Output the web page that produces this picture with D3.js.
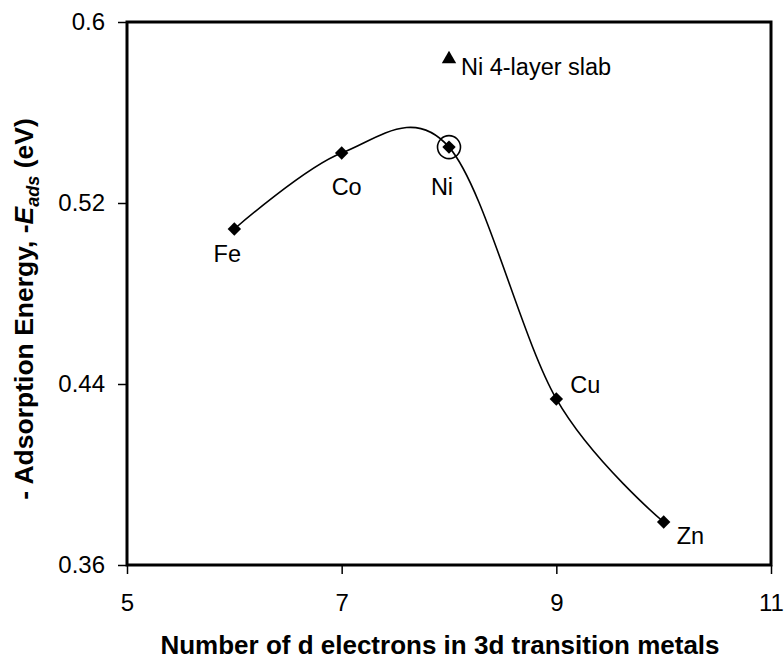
<!DOCTYPE html>
<html>
<head>
<meta charset="utf-8">
<script src="https://cdn.jsdelivr.net/npm/d3@7"></script>
<style>
  body { margin: 0; background: #fff; }
  text { font-family: "Liberation Sans", Arial, sans-serif; fill: #000; }
</style>
</head>
<body>
<div id="chart"></div>
<script>
// data
const metals = ['Fe', 'Co', 'Ni', 'Cu', 'Zn'];
const dElectrons = [6, 7, 8, 9, 10];
const energies = [0.5085, 0.5421, 0.5447, 0.4334, 0.379];
const slabX = [8];
const slabY = [0.5836];
const slabLabel = ['Ni 4-layer slab'];
const xTicks = [5, 7, 9, 11];
const yTicks = [0.36, 0.44, 0.52, 0.6];

// label offsets (pixels) from each point
const labelOffsets = [[-7, 33, 'middle'], [5, 42, 'middle'], [-7, 48, 'middle'], [14, -6, 'start'], [13, 22, 'start']];

const margin = { top: 22, right: 13, bottom: 96, left: 127 };
const W = 784, H = 661;
const width = W - margin.left - margin.right;
const height = H - margin.top - margin.bottom;

const svg = d3.select('#chart').append('svg')
    .attr('width', W)
    .attr('height', H);

const g = svg.append('g').attr('transform', 'translate(' + margin.left + ',' + margin.top + ')');

const x = d3.scaleLinear().domain([5, 11]).range([0, width]);
const y = d3.scaleLinear().domain([0.36, 0.6]).range([height, 0]);

// axes
g.append('g')
    .attr('transform', 'translate(0,' + height + ')')
    .call(d3.axisBottom(x).tickValues(xTicks).tickSize(9).tickPadding(20).tickFormat(d3.format('d')))
    .call(a => a.select('.domain').remove())
    .call(a => a.selectAll('line').attr('stroke-width', 1.5))
    .call(a => a.selectAll('text').style('font-size', '24px'));

g.append('g')
    .call(d3.axisLeft(y).tickValues(yTicks).tickSize(9).tickPadding(13).tickFormat(d => d === 0.6 ? '0.6' : d3.format('.2f')(d)))
    .call(a => a.select('.domain').remove())
    .call(a => a.selectAll('line').attr('stroke-width', 1.5))
    .call(a => a.selectAll('text').style('font-size', '24px'));

// frame
g.append('rect')
    .attr('x', 0).attr('y', 0)
    .attr('width', width).attr('height', height)
    .attr('fill', 'none')
    .attr('stroke', '#000')
    .attr('stroke-width', 3);

const points = metals.map((m, i) => ({ name: m, x: dElectrons[i], y: energies[i] }));

// smoothed line
const line = d3.line()
    .x(d => x(d.x))
    .y(d => y(d.y))
    .curve(d3.curveCardinal.tension(0));

g.append('path')
    .datum(points)
    .attr('fill', 'none')
    .attr('stroke', '#000')
    .attr('stroke-width', 1.6)
    .attr('d', line);

// diamond markers
g.selectAll('.marker')
    .data(points)
    .enter()
    .append('path')
    .attr('class', 'marker')
    .attr('transform', d => 'translate(' + x(d.x) + ',' + y(d.y) + ')')
    .attr('d', d3.symbol().type(d3.symbolDiamond2).size(115))
    .attr('fill', '#000');

// labels
g.selectAll('.label')
    .data(points)
    .enter()
    .append('text')
    .attr('class', 'label')
    .attr('x', (d, i) => x(d.x) + labelOffsets[i][0])
    .attr('y', (d, i) => y(d.y) + labelOffsets[i][1])
    .attr('text-anchor', (d, i) => labelOffsets[i][2])
    .style('font-size', '23.5px')
    .text(d => d.name);

// circle around Ni
g.append('circle')
    .attr('cx', x(dElectrons[2]))
    .attr('cy', y(energies[2]))
    .attr('r', 11.5)
    .attr('fill', 'none')
    .attr('stroke', '#000')
    .attr('stroke-width', 1.6);

// Ni 4-layer slab point
g.selectAll('.slab')
    .data(slabX)
    .enter()
    .append('path')
    .attr('class', 'slab')
    .attr('transform', (d, i) => 'translate(' + x(d) + ',' + y(slabY[i]) + ')')
    .attr('d', d3.symbol().type(d3.symbolTriangle).size(90))
    .attr('fill', '#000');

g.selectAll('.slab-label')
    .data(slabX)
    .enter()
    .append('text')
    .attr('class', 'slab-label')
    .attr('x', d => x(d) + 12)
    .attr('y', (d, i) => y(slabY[i]) + 16)
    .style('font-size', '23.5px')
    .text((d, i) => slabLabel[i]);

// axis titles
svg.append('text')
    .attr('x', 440)
    .attr('y', 654)
    .attr('text-anchor', 'middle')
    .style('font-size', '26px')
    .style('font-weight', 'bold')
    .text('Number of d electrons in 3d transition metals');

const yt = svg.append('text')
    .attr('transform', 'translate(33,309) rotate(-90)')
    .attr('text-anchor', 'middle')
    .style('font-size', '26.5px')
    .style('font-weight', 'bold');
yt.append('tspan').text('- Adsorption Energy, -');
yt.append('tspan').style('font-style', 'italic').text('E');
yt.append('tspan').style('font-style', 'italic').style('font-size', '18px').attr('dy', 6).text('ads');
yt.append('tspan').attr('dy', -6).text(' (eV)');
</script>
</body>
</html>
